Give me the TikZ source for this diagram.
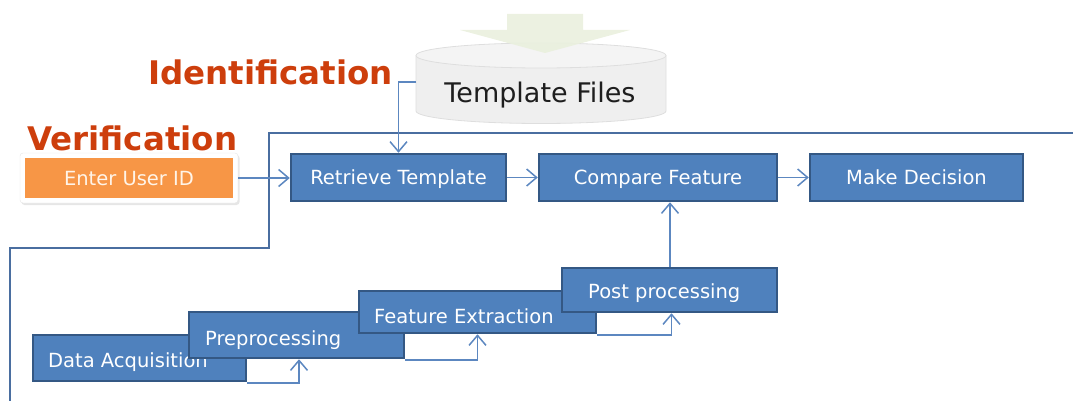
\documentclass[tikz,border=0pt]{standalone}
\usepackage{fontspec}
\setmainfont{DejaVu Sans}
\usetikzlibrary{arrows.meta,shadows}
\definecolor{boxfill}{RGB}{79,129,189}
\definecolor{boxline}{RGB}{52,88,132}
\definecolor{wire}{RGB}{92,135,192}
\definecolor{frameline}{RGB}{74,110,160}
\definecolor{labelred}{RGB}{205,62,12}
\definecolor{idorange}{RGB}{247,150,70}
\definecolor{idink}{RGB}{255,244,232}
\definecolor{drum}{RGB}{239,239,239}
\definecolor{drumtop}{RGB}{244,244,244}
\definecolor{drumedge}{RGB}{222,222,222}
\definecolor{feed}{RGB}{234,240,222}
\definecolor{tfink}{RGB}{30,30,30}
\begin{document}
\begin{tikzpicture}[x=1pt,y=-1pt,
  stepbox/.style={draw=boxline, line width=2.5pt, fill=boxfill, inner sep=0pt,
    text=white, font=\fontsize{19.5}{20}\selectfont, text height=14.2pt, text depth=0pt},
  steptext/.style={anchor=base west, inner sep=0pt, text=white,
    font=\fontsize{19.5}{20}\selectfont},
  conn/.style={draw=wire, line width=1.5pt, -{Straight Barb[length=10pt,width=17pt]}},
  heading/.style={anchor=base west, inner sep=0pt, text=labelred,
    font=\bfseries\fontsize{32.5}{34}\selectfont}]
\useasboundingbox (0,0) rectangle (1073,401);

% template store (cylinder) with the incoming feed arrow
\path[fill=drum, draw=drumedge, line width=0.8pt]
  (416,55.5) -- (416,111) arc[start angle=180, end angle=360, x radius=125pt, y radius=12.5pt] -- (666,55.5);
\path[fill=drumtop, draw=drumedge, line width=0.8pt] (541,55.5) ellipse [x radius=125pt, y radius=12.5pt];
\fill[feed, opacity=0.92] (507,14) -- (583,14) -- (583,30) -- (630,30) -- (545,53) -- (460,30) -- (507,30) -- cycle;
\node[anchor=base, inner sep=0pt, text=tfink, font=\fontsize{27}{28}\selectfont] (tf) at (540,103) {Template Files};
\coordinate (tfl) at (416,82);

% outline separating the identification path
\coordinate (fa) at (1073,133);
\coordinate (fb) at (269,133);
\coordinate (fc) at (269,248);
\coordinate (fd) at (10,248);
\coordinate (fe0) at (10,401);
\draw[frameline, line width=1.5pt] (fa) -- (fb) -- (fc) -- (fd) -- (fe0);

% headings
\node[heading] (ident) at (148,85) {Identification};
\node[heading] (verif) at (27,150) {Verification};

% user id entry
\node[fill=white, draw=black!10, rounded corners=3pt, minimum width=218pt, minimum height=50pt,
  drop shadow={shadow xshift=1.5pt, shadow yshift=-2pt, opacity=0.2}] (idframe) at (129,178) {};
\node[fill=idorange, minimum width=208pt, minimum height=40pt, inner sep=0pt, text=idink,
  font=\fontsize{19.5}{20}\selectfont, text height=14.2pt, text depth=0pt] (uid) at (129,178) {Enter User ID};

% matching row
\node[stepbox, minimum width=215pt, minimum height=47pt] (ret) at (398.5,177.5) {Retrieve Template};
\node[stepbox, minimum width=238pt, minimum height=47pt] (cmp) at (658,177.5) {Compare Feature};
\node[stepbox, minimum width=213pt, minimum height=47pt] (dec) at (916.5,177.5) {Make Decision};

% acquisition staircase
\node[stepbox, minimum width=213pt, minimum height=46pt] (da) at (139.5,358) {};
\node[steptext] (datext) at (48,367) {Data Acquisition};
\node[stepbox, minimum width=215pt, minimum height=46pt] (pp) at (296.5,335) {};
\node[steptext] (pptext) at (205,345) {Preprocessing};
\node[stepbox, minimum width=237pt, minimum height=42pt] (fx) at (477.5,312) {};
\node[steptext] (fxtext) at (374,323) {Feature Extraction};
\node[stepbox, minimum width=215pt, minimum height=44pt] (post) at (669.5,290) {};
\node[steptext] (posttext) at (588,298) {Post processing};

% connectors
\draw[conn] (idframe.east) -- (idframe.east -| ret.west);
\draw[conn] (ret.east) -- (cmp.west);
\draw[conn] (cmp.east) -- (dec.west);
\draw[conn] (tfl) -| (ret.north);
\draw[conn] ([yshift=-0.5pt]da.south east) -| ([xshift=2.5pt]pp.south);
\draw[conn] ([yshift=-0.5pt]pp.south east) -| (fx.south);
\draw[conn] ([yshift=-0.5pt]fx.south east) -| ([xshift=2pt]post.south);
\draw[conn] ([xshift=0.5pt]post.north) -- ([xshift=0.5pt]post.north |- cmp.south);
\end{tikzpicture}
\end{document}
